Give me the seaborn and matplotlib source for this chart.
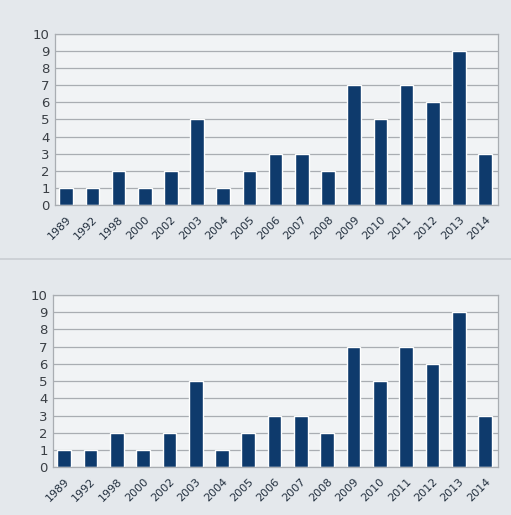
import matplotlib
matplotlib.use("Agg")
import matplotlib.pyplot as plt
import seaborn as sns
import pandas as pd

years = ["1989", "1992", "1998", "2000", "2002", "2003", "2004", "2005", "2006",
         "2007", "2008", "2009", "2010", "2011", "2012", "2013", "2014"]
counts_top = [1, 1, 2, 1, 2, 5, 1, 2, 3, 3, 2, 7, 5, 7, 6, 9, 3]
counts_bottom = [1, 1, 2, 1, 2, 5, 1, 2, 3, 3, 2, 7, 5, 7, 6, 9, 3]

sns.set_style("white")
plt.rcParams["font.family"] = ["DejaVu Sans"]

bar_color = "#0e3a6c"
grid_color = "#a9adb2"

fig = plt.figure(figsize=(5.11, 5.15), dpi=100, facecolor="#e4e8ec")
ax_top = fig.add_axes([0.108, 0.602, 0.867, 0.332])
ax_bot = fig.add_axes([0.104, 0.093, 0.871, 0.334])

# light separator between the two charts
fig.add_artist(plt.Line2D([0.0, 1.0], [0.498, 0.498], color="#c9cdd2", lw=1.2))

for ax, vals in [(ax_top, counts_top), (ax_bot, counts_bottom)]:
    df = pd.DataFrame({"year": years, "count": vals})
    sns.barplot(data=df, x="year", y="count", color=bar_color, width=0.52,
                saturation=1, ax=ax)
    ax.set_facecolor("#f1f3f5")
    ax.set_ylim(0, 10)
    ax.set_yticks(range(0, 11))
    ax.yaxis.grid(True, color=grid_color, lw=0.9)
    ax.set_axisbelow(True)
    ax.set_xlabel("")
    ax.set_ylabel("")
    ax.tick_params(axis="y", labelsize=9.5, colors="#3a3f45", length=0, pad=4)
    ax.tick_params(axis="x", labelsize=8, colors="#23303f", length=3,
                   direction="out", color=grid_color)
    for lab in ax.get_xticklabels():
        lab.set_rotation(45)
        lab.set_ha("right")
        lab.set_rotation_mode("anchor")
    for s in ax.spines.values():
        s.set_color(grid_color)
        s.set_linewidth(0.9)
    ax.set_xlim(-0.42, len(years) - 0.5)

fig.savefig("out.png", dpi=100, facecolor=fig.get_facecolor())
